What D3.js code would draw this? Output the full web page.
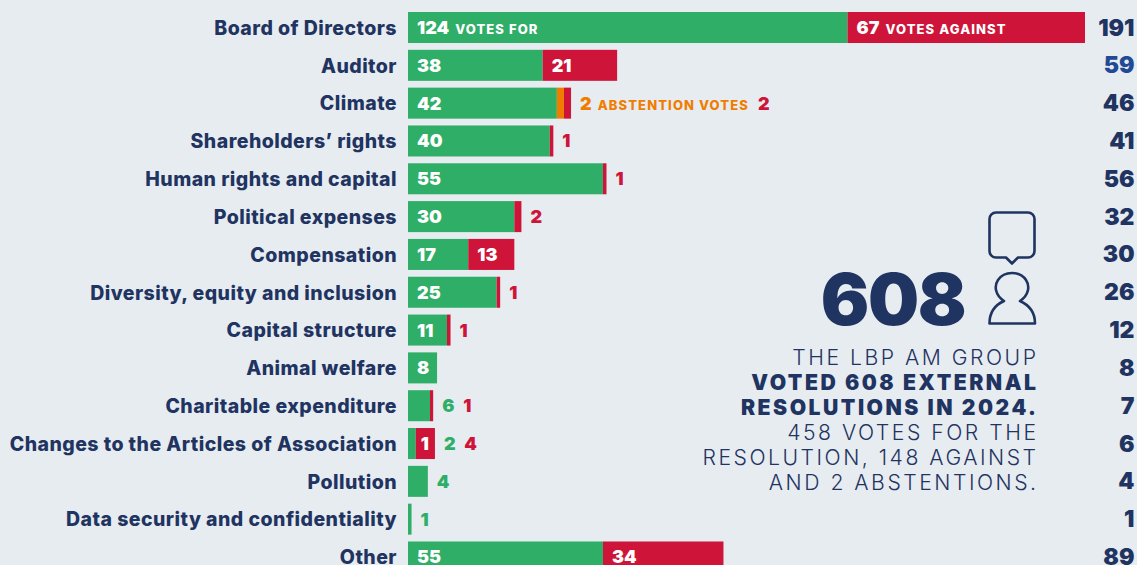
<!DOCTYPE html>
<html>
<head>
<meta charset="utf-8">
<script src="https://cdn.jsdelivr.net/npm/d3@7"></script>
<style>
  html, body { margin: 0; padding: 0; background: #e7ecf1; overflow: hidden; }
  text { font-family: Inter, "Open Sans", sans-serif; }
</style>
</head>
<body>
<div id="chart"></div>
<script>
// Chart data
const categories = ["Board of Directors", "Auditor", "Climate", "Shareholders’ rights", "Human rights and capital",
    "Political expenses", "Compensation", "Diversity, equity and inclusion", "Capital structure", "Animal welfare",
    "Charitable expenditure", "Changes to the Articles of Association", "Pollution", "Data security and confidentiality", "Other"];
const votesFor = [124, 38, 42, 40, 55, 30, 17, 25, 11, 8, 6, 2, 4, 1, 55];
const abstentions = [0, 0, 2, 0, 0, 0, 0, 0, 0, 0, 0, 0, 0, 0, 0];
const votesAgainst = [67, 21, 2, 1, 1, 2, 13, 1, 1, 0, 1, 4, 0, 0, 34];
const totals = [191, 59, 46, 41, 56, 32, 30, 26, 12, 8, 7, 6, 4, 1, 89];
// Drawn bar lengths: a few small bars in the picture are longer than their printed numbers
const barFor = [124, 38, 42, 40, 55, 30, 17, 25, 11, 8.2, 6.2, 2.2, 5.6, 1, 55];
const barAgainst = [67, 21, 2, 1, 1, 2, 13, 1, 1, 0, 0.9, 5.4, 0, 0, 34];
const summaryLines = [
    { text: "THE LBP AM GROUP", bold: false },
    { text: "VOTED 608 EXTERNAL", bold: true },
    { text: "RESOLUTIONS IN 2024.", bold: true },
    { text: "458 VOTES FOR THE", bold: false },
    { text: "RESOLUTION, 148 AGAINST", bold: false },
    { text: "AND 2 ABSTENTIONS.", bold: false }
];

const width = 1137;
const height = 565;
const navy = "#1f3461";
const green = "#2fae68";
const red = "#ce1539";
const orange = "#f07d00";
const insideMin = 8; // segments smaller than this get their number outside the bar

const svg = d3.select("#chart")
    .append("svg")
    .attr("width", width)
    .attr("height", height)
    .style("display", "block");

const xScale = d3.scaleLinear().domain([0, 191]).range([408, 1085]);

const yScale = d3.scaleBand()
    .domain(categories)
    .range([12, 572.5])
    .paddingInner(0.18);

const rows = categories.map((c, i) => ({
    category: c,
    votesFor: votesFor[i],
    abstain: abstentions[i],
    against: votesAgainst[i],
    total: totals[i],
    barFor: barFor[i],
    barAgainst: barAgainst[i],
    barEnd: barFor[i] + abstentions[i] + barAgainst[i]
}));

// Category labels
const yAxis = svg.append("g")
    .attr("transform", "translate(408,0)")
    .call(d3.axisLeft(yScale).tickSize(0).tickPadding(11));
yAxis.select(".domain").remove();
yAxis.selectAll("text")
    .attr("y", 1)
    .style("font-family", "Inter, sans-serif")
    .style("font-size", "19.5px")
    .style("font-weight", 800)
    .style("letter-spacing", "0.45px")
    .attr("fill", navy);

// Stacked bars
const segments = rows.flatMap(d => [
    { category: d.category, start: 0, end: d.barFor, color: green },
    { category: d.category, start: d.barFor, end: d.barFor + d.abstain, color: orange },
    { category: d.category, start: d.barFor + d.abstain, end: d.barEnd, color: red }
]).filter(s => s.end > s.start);

svg.selectAll("rect.segment")
    .data(segments)
    .enter()
    .append("rect")
    .attr("class", "segment")
    .attr("x", d => xScale(d.start))
    .attr("y", d => yScale(d.category))
    .attr("width", d => xScale(d.end) - xScale(d.start))
    .attr("height", yScale.bandwidth())
    .attr("fill", d => d.color);

const midY = d => yScale(d) + yScale.bandwidth() / 2 + 6.5;

function insideLabel(value, start, category, note) {
    const t = svg.append("text")
        .attr("x", xScale(start) + 9)
        .attr("y", midY(category))
        .attr("fill", "#fff")
        .style("font-size", "18px")
        .style("font-weight", 900)
        .text(value);
    if (note) {
        t.append("tspan")
            .attr("dx", 6)
            .style("font-size", "13px")
            .style("font-weight", 800)
            .style("letter-spacing", "1.1px")
            .text(note);
    }
}

// Numbers inside the bars, and the ones that flow after the bar end
rows.forEach((d, i) => {
    const outside = [];
    if (d.votesFor >= insideMin) {
        insideLabel(d.votesFor, 0, d.category, i === 0 ? "VOTES FOR" : null);
    } else {
        outside.push({ value: d.votesFor, color: green });
    }
    if (d.abstain > 0) outside.push({ value: d.abstain, color: orange, note: "ABSTENTION VOTES" });
    if (d.against >= insideMin) {
        insideLabel(d.against, d.barFor + d.abstain, d.category, i === 0 ? "VOTES AGAINST" : null);
    } else if (d.against > 0) {
        outside.push({ value: d.against, color: red });
    }
    if (!outside.length) return;

    const t = svg.append("text")
        .attr("x", xScale(d.barEnd) + 9)
        .attr("y", midY(d.category))
        .style("font-size", "18px")
        .style("font-weight", 900);
    outside.forEach((o, k) => {
        t.append("tspan").attr("dx", k ? 9 : 0).attr("fill", o.color).text(o.value);
        if (o.note) {
            t.append("tspan")
                .attr("dx", 6)
                .attr("fill", o.color)
                .style("font-size", "13px")
                .style("font-weight", 800)
                .style("letter-spacing", "1.1px")
                .text(o.note);
        }
    });
});

// The picture prints a stray white 1 on the red part of this row
svg.append("text")
    .attr("x", xScale(2.2) + 5)
    .attr("y", midY("Changes to the Articles of Association"))
    .attr("fill", "#fff")
    .style("font-size", "18px")
    .style("font-weight", 900)
    .text("1");

// Totals column
svg.selectAll("text.total")
    .data(rows)
    .enter()
    .append("text")
    .attr("class", "total")
    .attr("x", 1134.5)
    .attr("y", d => yScale(d.category) + yScale.bandwidth() / 2 + 8)
    .attr("text-anchor", "end")
    .attr("fill", d => d.total === 59 ? "#1f4a96" : navy)
    .style("font-size", "23px")
    .style("font-weight", 900)
    .text(d => d.total);

// Summary block
svg.append("text")
    .attr("x", 965)
    .attr("y", 325)
    .attr("text-anchor", "end")
    .attr("fill", navy)
    .style("font-size", "72px")
    .style("font-weight", 900)
    .style("letter-spacing", "-1.5px")
    .text("608");

svg.selectAll("text.summary")
    .data(summaryLines)
    .enter()
    .append("text")
    .attr("class", "summary")
    .attr("x", 1038.5)
    .attr("y", (d, i) => 365 + i * 25)
    .attr("text-anchor", "end")
    .attr("fill", navy)
    .style("font-size", "21.2px")
    .style("font-weight", d => d.bold ? 900 : 300)
    .style("letter-spacing", d => d.bold ? "2.5px" : "2.5px")
    .text(d => d.text);

// Speech bubble and person icons
const icons = svg.append("g")
    .attr("fill", "none")
    .attr("stroke", navy)
    .attr("stroke-width", 2.6)
    .attr("stroke-linejoin", "round");
icons.append("path")
    .attr("d", "M996,212.5H1028a6.5,6.5 0 0 1 6.5,6.5V251a6.5,6.5 0 0 1 -6.5,6.5H1018L1012,263.5L1006,257.5H996a6.5,6.5 0 0 1 -6.5,-6.5V219a6.5,6.5 0 0 1 6.5,-6.5Z");
icons.append("path")
    .attr("d", "M989.5,323.5C989.5,312 995,305 1004,301C995,295 994,286 998,280C1002,274 1007,273 1012,273C1017,273 1022,274 1026,280C1030,286 1029,295 1020,301C1029,305 1035,312 1035,323.5Z");
</script>
</body>
</html>
